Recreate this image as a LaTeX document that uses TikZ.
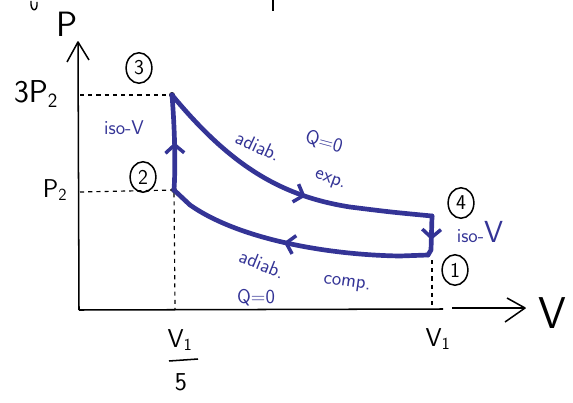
\documentclass[tikz,border=0pt]{standalone}
\usetikzlibrary{arrows.meta,decorations.markings,shapes.geometric}
\definecolor{pen}{RGB}{52,52,150}
\begin{document}
\begin{tikzpicture}[x=0.03cm,y=-0.03cm,
  axis/.style={line width=1.3pt,black},
  guide/.style={line width=1pt,black,dash pattern=on 3.5pt off 3.5pt},
  cycle/.style={line width=4pt,pen,line cap=round,line join=round},
  midarrow/.style={postaction={decorate},decoration={markings,
     mark=at position #1 with {\arrow[line width=3pt,pen]{Straight Barb[length=7pt,width=16pt]}}}},
  circ/.style={draw,ellipse,line width=1.3pt,inner sep=0pt,minimum width=22pt,minimum height=26pt,font=\sffamily\fontsize{18}{18}\selectfont},
  lab/.style={font=\sffamily\fontsize{22}{22}\selectfont,inner sep=0pt},
  blab/.style={text=pen,font=\sffamily\fontsize{17}{17}\selectfont,inner sep=0pt},
  dot/.style={circle,fill=black,inner sep=0pt,minimum size=5pt}]
\useasboundingbox (0,0) rectangle (573,403);
% fragments at top edge
\draw[line width=1.2pt] (31,1) .. controls (30,12) and (38,13) .. (37,2);
\draw[line width=1.6pt] (273,0) -- (273,11);
% axes
\coordinate (O) at (79,310);
\coordinate (Ptip) at (78,42);
\coordinate (Vtip) at (525,308);
\draw[axis] (O) -- (Ptip);
\draw[axis,line join=round] (67,62) -- (Ptip) -- (89,60);
\draw[axis] (O) -- (443,309);
\draw[axis] (452,308) -- (Vtip);
\draw[axis,line join=round] (507,298) -- (Vtip) -- (505,322);
% axis labels
\node[lab,font=\sffamily\fontsize{30}{30}\selectfont] (lP) at (67,24) {P};
\node[lab,font=\sffamily\fontsize{38}{38}\selectfont] (lV) at (552,313) {V};
\node[lab,font=\sffamily\fontsize{27}{27}\selectfont] (l3P) at (36,94) {3P$_{\mathsf 2}$};
\node[lab] (lP2) at (55,190) {P$_{\mathsf 2}$};
\node[lab] (lV1a) at (180,340) {V$_{\mathsf 1}$};
\draw[axis] (169,361) -- (198,359);
\node[lab] (l5) at (181,382) {5};
\node[lab] (lV1b) at (438,339) {V$_{\mathsf 1}$};
% states
\node[dot] (p3) at (172,95) {};
\node[dot] (p2) at (174,190) {};
\coordinate (p4) at (432,216);
\coordinate (p1) at (428,255);
% guides
\draw[guide] (80,95) -- (p3);
\draw[guide] (80,192) -- (p2);
\draw[guide] (p2) -- (175,309);
\draw[guide] (432,260) -- (432,309);
% circled labels
\node[circ] (c3) at (139,68) {3};
\node[circ] (c2) at (143,177) {2};
\node[circ] (c4) at (461,203) {4};
\node[circ] (c1) at (455,270) {1};
% cycle
\draw[cycle,midarrow=0.5] (p2.center) .. controls (176,160) and (174,120) .. (p3.center);
\draw[cycle,midarrow=0.57] (p3.center) .. controls (230,165) and (280,196) .. (350,207) .. controls (390,212) .. (p4);
\draw[cycle,midarrow=0.6] (p4) -- (431,250) -- (p1);
\draw[cycle,midarrow=0.54] (p1) -- (400,256) .. controls (330,255) and (240,240) .. (190,205) -- (p2.center);
% process labels
\node[blab] (iso1) at (124,128) {iso-V};
\node[blab] (iso2) at (480,232) {iso-{\fontsize{26}{26}\selectfont V}};
\node[blab,rotate=-25] (ad1) at (258,146) {adiab.};
\node[blab,rotate=-15] (q1) at (324,142) {Q=0};
\node[blab,rotate=-20] (ex1) at (330,181) {exp.};
\node[blab,rotate=-22] (ad2) at (262,264) {adiab.};
\node[blab,rotate=-8] (cp2) at (347,284) {comp.};
\node[blab] (q2) at (256,298) {Q=0};
\end{tikzpicture}
\end{document}
